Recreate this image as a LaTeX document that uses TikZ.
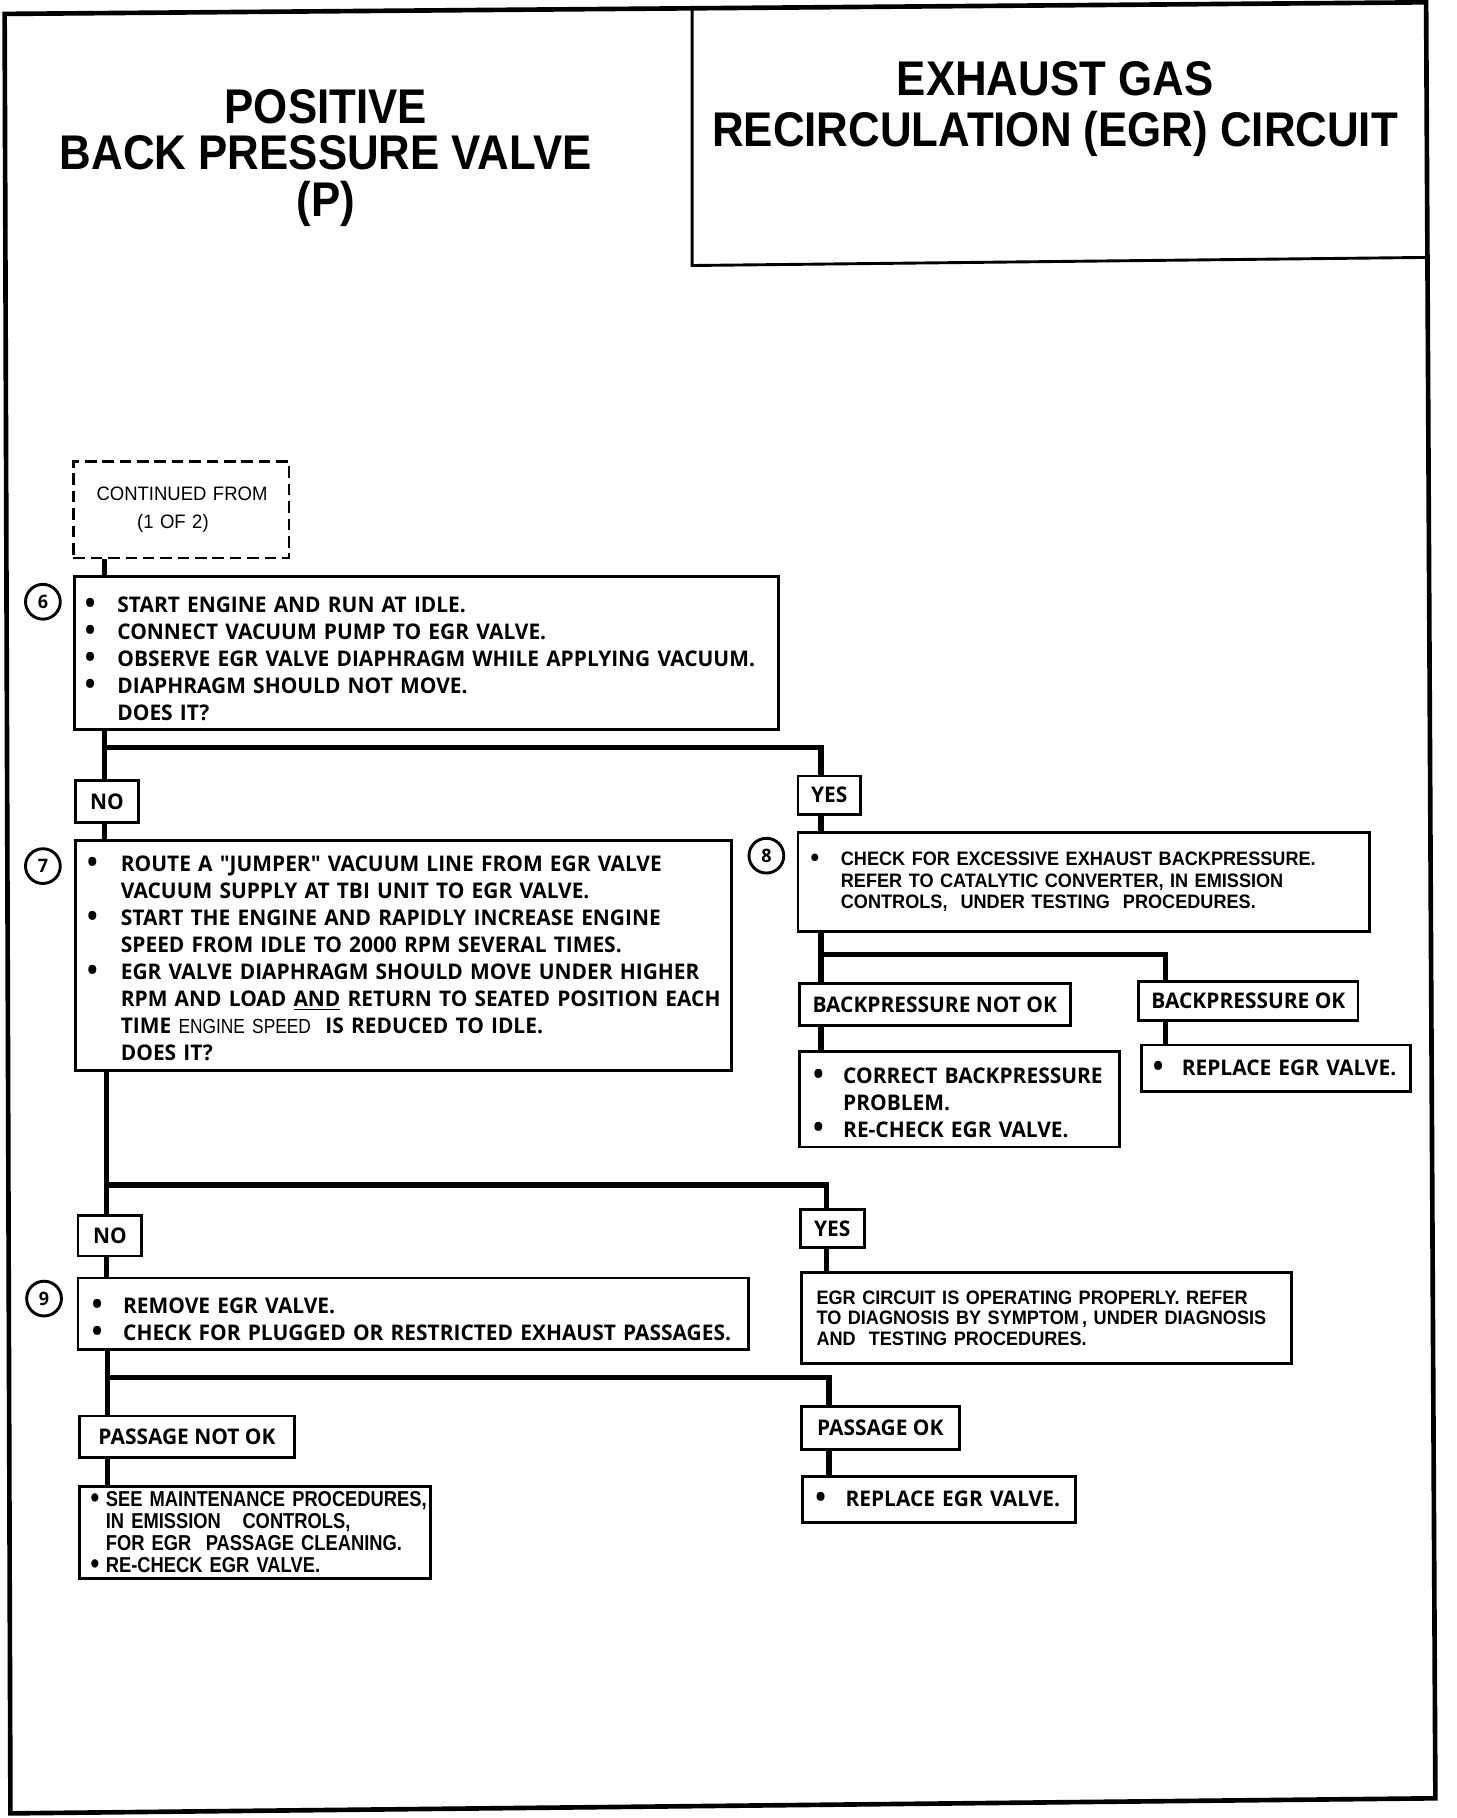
\documentclass[tikz,border=0pt]{standalone}
\usepackage{fontspec}
\usepackage{graphicx}
\setmainfont{Liberation Sans}
\newfontfamily\titlefont[FakeStretch=0.9]{Liberation Sans}
\newfontfamily\stepfont[FakeStretch=0.97]{Open Sans}
\newfontfamily\hvfont[FakeStretch=0.93]{Liberation Sans}
\newfontfamily\cdfont[FakeStretch=0.85]{Liberation Sans}
\newfontfamily\dsfont[FakeStretch=0.95]{Liberation Sans}
\newcommand{\bdot}{\raisebox{-0.4pt}{\scalebox{1.35}{•}}}
\newcommand{\bul}[2]{\mbox{\makebox[#1][l]{\bdot}#2}}
\newcommand{\indl}[2]{\mbox{\hspace*{#1}#2}}
\newcommand{\tstrut}[1]{\rule{0pt}{#1}}
\begin{document}
\begin{tikzpicture}[x=0.5pt,y=-0.5pt,
  bx/.style={draw, line width=1.25pt, inner sep=0pt, align=left, anchor=north west},
  stepf/.style={font=\stepfont\bfseries\fontsize{9.3pt}{11.6pt}\selectfont},
  lb/.style={draw, line width=1.25pt, inner sep=0pt, align=center, anchor=north west, stepf},
  hvf/.style={font=\hvfont\bfseries\fontsize{8.4pt}{9.25pt}\selectfont},
  cdf/.style={font=\cdfont\bfseries\fontsize{9.3pt}{9.5pt}\selectfont},
  conn/.style={line width=2.25pt, line join=miter},
  circ/.style={draw, circle, line width=1.25pt, minimum size=15pt, inner sep=0pt,
    font=\stepfont\bfseries\fontsize{8pt}{8pt}\selectfont}]
\useasboundingbox (0,0) rectangle (1256,1568);

% frame and title box
\draw[line width=2pt, line join=miter] (4,12) -- (1230,2) -- (1238,1551) -- (9,1564) -- cycle;
\draw[line width=1.25pt] (597,8) -- (597,229) -- (1233,222);

\node[font=\titlefont\bfseries\fontsize{21pt}{20pt}\selectfont, align=center] (t1) at (281,136)
  {POSITIVE\\BACK PRESSURE VALVE\\(P)};
\node[font=\titlefont\bfseries\fontsize{21pt}{22pt}\selectfont, align=center] (t2) at (910,94)
  {EXHAUST GAS\\RECIRCULATION (EGR) CIRCUIT};

% spine coordinates
\coordinate (sA) at (90,0);
\coordinate (sA2) at (92,0);
\coordinate (sB) at (708,0);
\coordinate (sC) at (1005,0);
\coordinate (sD) at (713,0);
\coordinate (sE) at (715,0);
\coordinate (j1) at (90,645);
\coordinate (j2) at (708,823);
\coordinate (j3) at (92,1022);
\coordinate (j4) at (93,1188);

% boxes
\node[bx, dashed, dash pattern=on 5pt off 2.5pt, minimum width=93pt, minimum height=41.5pt,
  text width=73pt, font=\dsfont\fontsize{8.4pt}{12pt}\selectfont] (d0) at (62,397)
  {\mbox{CONTINUED FROM}\\\indl{17.5pt}{(1 OF 2)}};

\node[bx, stepf, minimum width=303.5pt, minimum height=66pt, text width=294.5pt] (b6) at (63,496)
  {\tstrut{11.6pt}\bul{14pt}{START ENGINE AND RUN AT IDLE.}\\
   \bul{14pt}{CONNECT VACUUM PUMP TO EGR VALVE.}\\
   \bul{14pt}{OBSERVE EGR VALVE DIAPHRAGM WHILE APPLYING VACUUM.}\\
   \bul{14pt}{DIAPHRAGM SHOULD NOT MOVE.}\\
   \indl{14pt}{DOES IT?}};
\node[circ] (c6) at (37,519) {6};

\node[lb, minimum width=27pt, minimum height=18pt] (no1) at (64,672) {NO};
\node[lb, minimum width=27pt, minimum height=16.5pt] (yes1) at (687,668) {YES};

\node[bx, stepf, minimum width=283pt, minimum height=99pt, text width=273pt] (b7) at (64,724)
  {\tstrut{9.1pt}\bul{14.5pt}{ROUTE A "JUMPER" VACUUM LINE FROM EGR VALVE}\\
   \indl{14.5pt}{VACUUM SUPPLY AT TBI UNIT TO EGR VALVE.}\\
   \bul{14.5pt}{START THE ENGINE AND RAPIDLY INCREASE ENGINE}\\
   \indl{14.5pt}{SPEED FROM IDLE TO 2000 RPM SEVERAL TIMES.}\\
   \bul{14.5pt}{EGR VALVE DIAPHRAGM SHOULD MOVE UNDER HIGHER}\\
   \indl{14.5pt}{RPM AND LOAD \underline{AND} RETURN TO SEATED POSITION EACH}\\
   \indl{14.5pt}{TIME {\cdfont\mdseries\fontsize{8.8pt}{8.8pt}\selectfont ENGINE SPEED\ } IS REDUCED TO IDLE.}\\
   \indl{14.5pt}{DOES IT?}};
\node[circ] (c7) at (37,747) {7};

\node[bx, hvf, minimum width=246.5pt, minimum height=42.5pt, text width=235.5pt] (b8) at (687,717)
  {\bul{13pt}{CHECK FOR EXCESSIVE EXHAUST BACKPRESSURE.}\\
   \indl{13pt}{REFER TO CATALYTIC CONVERTER, IN EMISSION}\\
   \indl{13pt}{CONTROLS,\ \ UNDER TESTING\ \ PROCEDURES.}};
\node[circ] (c8) at (661,738) {8};

\node[lb, minimum width=117pt, minimum height=18pt] (bpnok) at (688,847) {BACKPRESSURE NOT OK};
\node[lb, minimum width=94.5pt, minimum height=17pt] (bpok) at (981,845) {BACKPRESSURE OK};

\node[bx, stepf, minimum width=138pt, minimum height=41pt, text width=126pt] (corr) at (688,906)
  {\tstrut{9.6pt}\bul{13pt}{CORRECT BACKPRESSURE}\\
   \indl{13pt}{PROBLEM.}\\
   \bul{13pt}{RE-CHECK EGR VALVE.}};
\node[bx, stepf, minimum width=116pt, minimum height=20pt, text width=106pt] (rep1) at (983,900)
  {\bul{12.5pt}{REPLACE EGR VALVE.}};

\node[lb, minimum width=27.5pt, minimum height=17.5pt] (no2) at (66,1047) {NO};
\node[lb, minimum width=27.5pt, minimum height=16.5pt] (yes2) at (689,1042) {YES};

\node[bx, stepf, minimum width=289pt, minimum height=31pt, text width=277pt] (b9) at (66,1101)
  {\tstrut{11.6pt}\bul{13.5pt}{REMOVE EGR VALVE.}\\
   \bul{13.5pt}{CHECK FOR PLUGGED OR RESTRICTED EXHAUST PASSAGES.}};
\node[circ] (c9) at (38,1120) {9};

\node[bx, minimum width=211.5pt, minimum height=39.5pt, text width=198.5pt,
  font=\hvfont\bfseries\fontsize{8.4pt}{8.75pt}\selectfont] (egr) at (690,1096)
  {\mbox{EGR CIRCUIT IS OPERATING PROPERLY. REFER}\\
   \mbox{TO DIAGNOSIS BY SYMPTOM\,, UNDER DIAGNOSIS}\\
   \mbox{AND\ \ TESTING PROCEDURES.}};

\node[lb, minimum width=93pt, minimum height=18pt] (pnok) at (67,1220) {PASSAGE NOT OK};
\node[lb, minimum width=68pt, minimum height=18.5pt] (pok) at (690,1212) {PASSAGE OK};

\node[bx, cdf, minimum width=151.5pt, minimum height=39.5pt, text width=141.5pt] (seem) at (67,1281)
  {\bul{6.5pt}{SEE MAINTENANCE PROCEDURES,}\\
   \indl{6.5pt}{IN EMISSION\ \ \ CONTROLS,}\\
   \indl{6.5pt}{FOR EGR\ \ PASSAGE CLEANING.}\\
   \bul{6.5pt}{RE-CHECK EGR VALVE.}};
\node[bx, stepf, minimum width=117.5pt, minimum height=20pt, text width=106.5pt] (rep2) at (691,1272)
  {\bul{13pt}{REPLACE EGR VALVE.}};

% connectors
\draw[conn] (d0.south -| sA) -- (b6.north -| sA);
\draw[conn] (b6.south -| j1) -- (j1) -| (yes1.north -| sB);
\draw[conn] (j1) -- (no1.north -| j1);
\draw[conn] (no1.south -| sA) -- (b7.north -| sA);
\draw[conn] (yes1.south -| sB) -- (b8.north -| sB);
\draw[conn] (b8.south -| j2) -- (j2) -| (bpok.north -| sC);
\draw[conn] (j2) -- (bpnok.north -| j2);
\draw[conn] (bpnok.south -| sB) -- (corr.north -| sB);
\draw[conn] (bpok.south -| sC) -- (rep1.north -| sC);
\draw[conn] (b7.south -| j3) -- (j3) -| (yes2.north -| sD);
\draw[conn] (j3) -- (no2.north -| j3);
\draw[conn] (no2.south -| sA2) -- (b9.north -| sA2);
\draw[conn] (yes2.south -| sD) -- (egr.north -| sD);
\draw[conn] (b9.south -| j4) -- (j4) -| (pok.north -| sE);
\draw[conn] (j4) -- (pnok.north -| j4);
\draw[conn] (pnok.south -| j4) -- (seem.north -| j4);
\draw[conn] (pok.south -| sE) -- (rep2.north -| sE);
\end{tikzpicture}
\end{document}
